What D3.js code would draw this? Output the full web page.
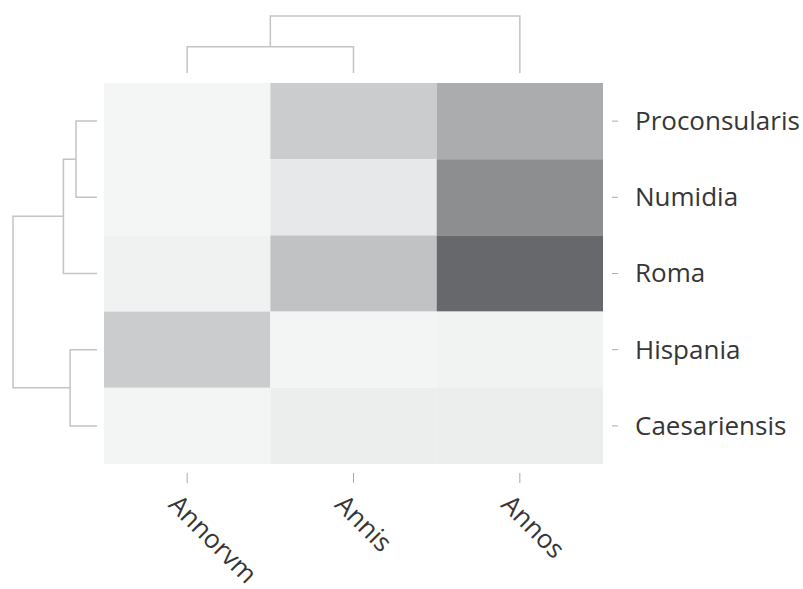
<!DOCTYPE html>
<html>
<head>
<meta charset="utf-8">
<script src="https://cdn.jsdelivr.net/npm/d3@7"></script>
<style>
  html, body { margin: 0; padding: 0; background: #fff; }
  svg { display: block; }
  .lbl { font-family: "Open Sans", "Noto Sans", sans-serif; font-size: 26px; fill: #363636; }
</style>
</head>
<body>
<svg id="chart" width="803" height="589"></svg>
<script>
// Word forms (columns) and provinces (rows), in dendrogram order
const columns = ["Annorvm", "Annis", "Annos"];
const rows = ["Proconsularis", "Numidia", "Roma", "Hispania", "Caesariensis"];

// Relative frequency of each form per province (0–100)
const proconsularis = [0, 29, 52];
const numidia = [0, 9, 73];
const roma = [3, 36, 100];
const hispania = [29, 1, 2];
const caesariensis = [1, 6, 6];
const values = [proconsularis, numidia, roma, hispania, caesariensis];

// Cluster trees with merge heights (relative distance)
const columnTree = { h: 1.0, children: [
  { h: 0.46, children: [{ name: "Annorvm", h: 0 }, { name: "Annis", h: 0 }] },
  { name: "Annos", h: 0 }
]};
const rowTree = { h: 1.0, children: [
  { h: 0.40, children: [
    { h: 0.25, children: [{ name: "Proconsularis", h: 0 }, { name: "Numidia", h: 0 }] },
    { name: "Roma", h: 0 }
  ]},
  { h: 0.32, children: [{ name: "Hispania", h: 0 }, { name: "Caesariensis", h: 0 }] }
]};

const svg = d3.select("#chart");

const x = d3.scaleBand().domain(columns).range([104, 603]);
const y = d3.scaleBand().domain(rows).range([83, 464]);
const color = d3.scaleLinear().domain([0, 100]).range(["#f4f5f5", "#67686b"]);

// Heatmap cells
const cells = [];
rows.forEach((r, i) => columns.forEach((c, j) => cells.push({ r, c, v: values[i][j] })));
svg.append("g").selectAll("rect").data(cells).join("rect")
  .attr("x", d => x(d.c))
  .attr("y", d => y(d.r))
  .attr("width", x.bandwidth())
  .attr("height", y.bandwidth())
  .attr("fill", d => color(d.v));

// Right axis (row labels)
const yAxis = svg.append("g").attr("transform", "translate(612,0)")
  .call(d3.axisRight(y).tickSize(6).tickPadding(17));
yAxis.select(".domain").remove();
yAxis.selectAll(".tick line").attr("stroke", "#aaa");
yAxis.selectAll(".tick text").attr("class", "lbl").attr("fill", null).attr("font-size", null).attr("font-family", null)
  .attr("dy", "0.34em");

// Bottom axis (column labels, rotated)
const xAxis = svg.append("g").attr("transform", "translate(0,473)")
  .call(d3.axisBottom(x).tickSize(10).tickPadding(0));
xAxis.select(".domain").remove();
xAxis.selectAll(".tick line").attr("stroke", "#aaa");
xAxis.selectAll(".tick text").attr("class", "lbl").attr("fill", null).attr("font-size", null).attr("font-family", null)
  .attr("text-anchor", "start")
  .attr("dy", null)
  .attr("y", 0)
  .attr("transform", "translate(-20,33) rotate(45)");

// Dendrograms
function layout(tree, pos) {
  const root = d3.hierarchy(tree);
  root.eachAfter(n => {
    n.p = n.children ? d3.mean(n.children, c => c.p) : pos(n.data.name) + (pos.bandwidth() / 2);
  });
  return root;
}

// Row dendrogram on the left
const xd = d3.scaleLinear().domain([0, 1]).range([97, 13]);
const rowRoot = layout(rowTree, y);
svg.append("g").selectAll("path")
  .data(rowRoot.descendants().filter(n => n.children))
  .join("path")
  .attr("fill", "none").attr("stroke", "#c4c4c4").attr("stroke-width", 1.5)
  .attr("d", n => {
    const [a, b] = n.children;
    return `M${xd(a.data.h)},${a.p}H${xd(n.data.h)}V${b.p}H${xd(b.data.h)}`;
  });

// Column dendrogram on top
const yd = d3.scaleLinear().domain([0, 1]).range([73, 16]);
const colRoot = layout(columnTree, x);
svg.append("g").selectAll("path")
  .data(colRoot.descendants().filter(n => n.children))
  .join("path")
  .attr("fill", "none").attr("stroke", "#c4c4c4").attr("stroke-width", 1.5)
  .attr("d", n => {
    const [a, b] = n.children;
    return `M${a.p},${yd(a.data.h)}V${yd(n.data.h)}H${b.p}V${yd(b.data.h)}`;
  });
</script>
</body>
</html>
